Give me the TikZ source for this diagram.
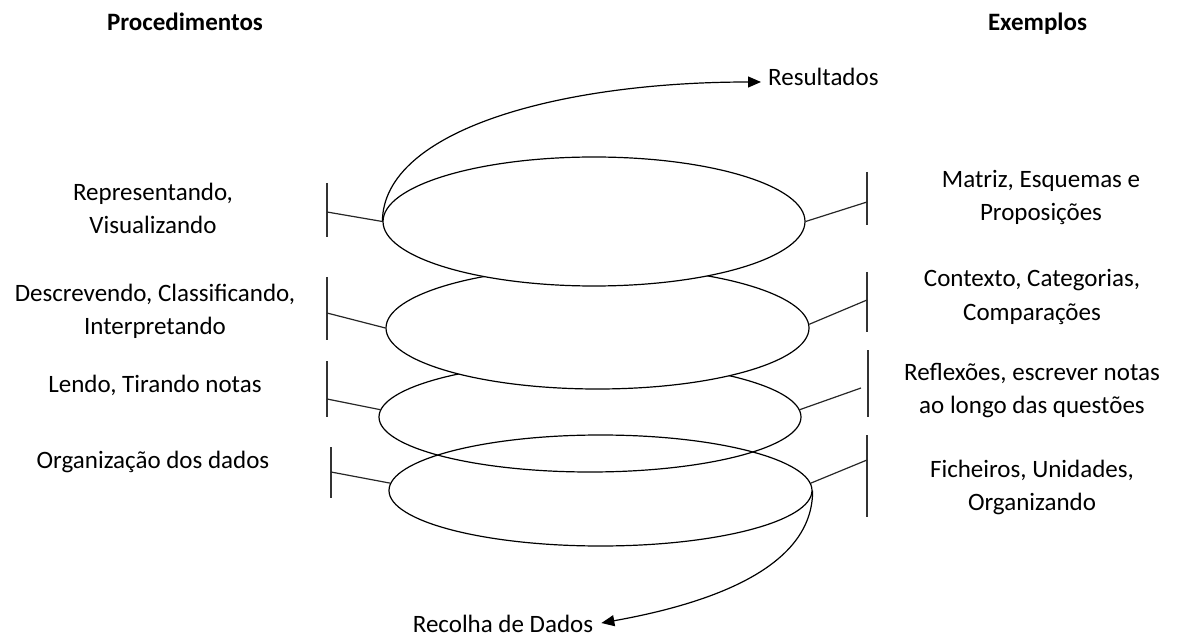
\documentclass[tikz,border=0pt]{standalone}
\usepackage{fontspec}
\setmainfont{Carlito}
\usetikzlibrary{shapes.geometric,arrows.meta}
\tikzset{
  lbl/.style={inner sep=0pt, font=\fontsize{25}{33}\selectfont, align=center, text=black},
  head/.style={inner sep=0pt, font=\fontsize{25}{33}\selectfont\bfseries, text=black},
  ring/.style={ellipse, draw=black, line width=1.2pt, inner sep=0pt},
  barline/.style={draw=black!80, line width=1.5pt},
  link/.style={draw=black!85, line width=1.2pt},
  flow/.style={draw=black, line width=1.2pt, -{Triangle[length=13pt,width=11pt]}}
}
\begin{document}
\begin{tikzpicture}[x=1pt,y=-1pt]
\useasboundingbox (0,0) rectangle (1178,636);

% headers
\node[head, anchor=base] (hproc) at (185,31) {Procedimentos};
\node[head, anchor=base] (hex) at (1037.5,31) {Exemplos};

% ellipses (lower ones first; upper ones filled so they hide what lies beneath)
\node[ring, minimum width=423pt, minimum height=111pt] (e4) at (600.5,490.5) {};
\node[ring, minimum width=422pt, minimum height=110pt] (e3) at (590,417) {};
\node[ring, fill=white, minimum width=423pt, minimum height=122pt] (e2) at (597.5,328) {};
\node[ring, fill=white, minimum width=422pt, minimum height=129pt] (e1) at (594,221.5) {};

% left labels
\node[lbl, anchor=base] (p1a) at (153,200.5) {Representando,};
\node[lbl, anchor=base] (p1b) at (153,233.5) {Visualizando};
\node[lbl, anchor=base] (p2a) at (155,301.5) {Descrevendo, Classificando,};
\node[lbl, anchor=base] (p2b) at (155,334.5) {Interpretando};
\node[lbl, anchor=base] (p3) at (155,392) {Lendo, Tirando notas};
\node[lbl, anchor=base] (p4) at (153,468) {Organização dos dados};

% right labels
\node[lbl, anchor=base] (x1a) at (1041,188) {Matriz, Esquemas e};
\node[lbl, anchor=base] (x1b) at (1041,221) {Proposições};
\node[lbl, anchor=base] (x2a) at (1032,287) {Contexto, Categorias,};
\node[lbl, anchor=base] (x2b) at (1032,320) {Comparações};
\node[lbl, anchor=base] (x3a) at (1032,380) {Reflexões, escrever notas};
\node[lbl, anchor=base] (x3b) at (1032,413) {ao longo das questões};
\node[lbl, anchor=base] (x4a) at (1032,477) {Ficheiros, Unidades,};
\node[lbl, anchor=base] (x4b) at (1032,510) {Organizando};

% left bars
\coordinate (lb1t) at (327,183); \coordinate (lb1b) at (327,237); \coordinate (lb1m) at (327,212);
\coordinate (lb2t) at (327,277); \coordinate (lb2b) at (327,340); \coordinate (lb2m) at (327,313);
\coordinate (lb3t) at (327,361); \coordinate (lb3b) at (327,417); \coordinate (lb3m) at (327,399);
\coordinate (lb4t) at (331,447); \coordinate (lb4b) at (331,498); \coordinate (lb4m) at (331,472);
\draw[barline] (lb1t) -- (lb1b);
\draw[barline] (lb2t) -- (lb2b);
\draw[barline] (lb3t) -- (lb3b);
\draw[barline] (lb4t) -- (lb4b);

% right bars
\coordinate (rb1t) at (867,172); \coordinate (rb1b) at (867,225); \coordinate (rb1m) at (867,202);
\coordinate (rb2t) at (867,272); \coordinate (rb2b) at (867,332); \coordinate (rb2m) at (867,300);
\coordinate (rb3t) at (868,350); \coordinate (rb3b) at (868,417); \coordinate (rb3m) at (861,388);
\coordinate (rb4t) at (867,435); \coordinate (rb4b) at (867,517); \coordinate (rb4m) at (867,460);
\draw[barline] (rb1t) -- (rb1b);
\draw[barline] (rb2t) -- (rb2b);
\draw[barline] (rb3t) -- (rb3b);
\draw[barline] (rb4t) -- (rb4b);

% connectors
\draw[link] (lb1m) -- (e1.west);
\draw[link] (lb2m) -- (e2.west);
\draw[link] (lb3m) -- (e3.178.4);
\draw[link] (lb4m) -- (e4.178.5);
\draw[link] (e1.east) -- (rb1m);
\draw[link] (e2.1.5) -- (rb2m);
\draw[link] (e3.2.5) -- (rb3m);
\draw[link] (e4.2) -- (rb4m);

% flow arrows
\node[lbl, anchor=base west] (res) at (768,86) {Resultados};
\node[lbl, anchor=base] (rec) at (503,632) {Recolha de Dados};
\coordinate (resT) at ([xshift=-7pt,yshift=4pt]res.base west);
\coordinate (recT) at ([xshift=8pt,yshift=9pt]rec.base east);
\draw[flow] (e1.west) .. controls (383,130) and (560,82) .. (resT);
\draw[flow] (e4.east) .. controls (813,560) and (730,600) .. (recT);
\end{tikzpicture}
\end{document}
